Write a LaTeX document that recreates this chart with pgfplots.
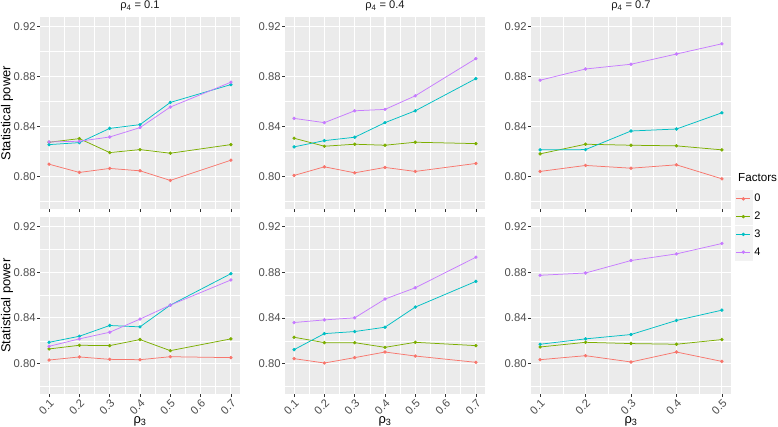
\documentclass[border=0pt]{standalone}
\usepackage{pgfplots}
\usepackage{pgfplotstable}
\pgfplotsset{compat=1.18}
\usepackage{fontspec}
\setmainfont{Liberation Sans}

\definecolor{fzero}{HTML}{F8766D}
\definecolor{ftwo}{HTML}{7CAE00}
\definecolor{fthree}{HTML}{00BFC4}
\definecolor{ffour}{HTML}{C77CFF}
\definecolor{panelbg}{HTML}{EBEBEB}
\definecolor{keybg}{HTML}{F2F2F2}
\definecolor{ticktext}{HTML}{4D4D4D}
\definecolor{tickcol}{HTML}{333333}
\definecolor{striptext}{HTML}{1A1A1A}

% statistical power, columns = number of factors
\pgfplotstableread{
x   f0     f2     f3     f4
0.1 0.8098 0.8274 0.8255 0.8276
0.2 0.8032 0.8303 0.8271 0.8282
0.3 0.8064 0.8191 0.8385 0.8316
0.4 0.8045 0.8215 0.8415 0.8391
0.5 0.7968 0.8186 0.8593 0.8556
0.7 0.8130 0.8255 0.8736 0.8755
}\tabA
\pgfplotstableread{
x   f0     f2     f3     f4
0.1 0.8008 0.8306 0.8237 0.8465
0.2 0.8077 0.8242 0.8287 0.8431
0.3 0.8029 0.8258 0.8314 0.8526
0.4 0.8072 0.8250 0.8431 0.8537
0.5 0.8040 0.8274 0.8526 0.8646
0.7 0.8104 0.8263 0.8784 0.8944
}\tabB
\pgfplotstableread{
x   f0     f2     f3     f4
0.1 0.8040 0.8181 0.8213 0.8771
0.2 0.8088 0.8258 0.8215 0.8861
0.3 0.8066 0.8250 0.8364 0.8899
0.4 0.8093 0.8245 0.8380 0.8981
0.5 0.7981 0.8213 0.8510 0.9063
}\tabC
\pgfplotstableread{
x   f0     f2     f3     f4
0.1 0.8032 0.8129 0.8187 0.8152
0.2 0.8059 0.8161 0.8240 0.8217
0.3 0.8038 0.8158 0.8334 0.8275
0.4 0.8035 0.8211 0.8322 0.8390
0.5 0.8061 0.8114 0.8512 0.8512
0.7 0.8053 0.8217 0.8787 0.8732
}\tabD
\pgfplotstableread{
x   f0     f2     f3     f4
0.1 0.8044 0.8231 0.8123 0.8360
0.2 0.8006 0.8184 0.8263 0.8383
0.3 0.8053 0.8184 0.8281 0.8401
0.4 0.8102 0.8143 0.8319 0.8565
0.5 0.8067 0.8187 0.8495 0.8664
0.7 0.8012 0.8158 0.8720 0.8931
}\tabE
\pgfplotstableread{
x   f0     f2     f3     f4
0.1 0.8035 0.8146 0.8170 0.8773
0.2 0.8070 0.8187 0.8217 0.8793
0.3 0.8015 0.8176 0.8255 0.8902
0.4 0.8102 0.8170 0.8378 0.8960
0.5 0.8020 0.8211 0.8468 0.9051
}\tabF

\pgfplotsset{
  facet/.style={
    scale only axis, width=200bp, anchor=south west,
    ymin=0.7735, ymax=0.928,
    ytick={0.80,0.84,0.88,0.92},
    minor ytick={0.78,0.82,0.86,0.90},
    grid=both,
    major grid style={white, line width=1.1bp},
    minor grid style={white, line width=0.55bp},
    axis background/.style={fill=panelbg},
    axis line style={draw=none},
    tick align=outside, tick pos=left,
    major tick length=2.7bp, minor tick length=0pt,
    tick style={tickcol, line width=0.5bp},
    /pgf/number format/assume math mode=true,
    yticklabel={\pgfmathprintnumber[fixed,fixed zerofill,precision=2]{\tick}},
    yticklabel style={font=\fontsize{11.3}{12}\selectfont, text=ticktext, inner sep=1.5bp},
    title style={font=\fontsize{11.2}{12}\selectfont, text=striptext, yshift=-4bp},
    every axis y label/.style={at={(axis description cs:0,0.5)}, xshift=-33bp, rotate=90, anchor=center, font=\fontsize{13}{14}\selectfont},
    every axis x label/.style={at={(axis description cs:0.5,0)}, yshift=-27.5bp, anchor=center, font=\fontsize{13}{14}\selectfont},
  },
  wide/.style={xmin=0.07, xmax=0.73, xtick={0.1,0.2,0.3,0.4,0.5,0.6,0.7},
    minor xtick={0.15,0.25,0.35,0.45,0.55,0.65}},
  narrow/.style={xmin=0.08, xmax=0.52, xtick={0.1,0.2,0.3,0.4,0.5},
    minor xtick={0.15,0.25,0.35,0.45}},
  toprow/.style={height=192.8bp, xticklabel=\empty},
  botrow/.style={height=176.7bp, xlabel={ρ\textsubscript{3}},
    xticklabel={\pgfmathprintnumber[fixed,fixed zerofill,precision=1]{\tick}},
    xticklabel style={font=\fontsize{11.3}{12}\selectfont, text=ticktext, rotate=45, anchor=north east, inner sep=1bp}},
  ser/.style={color=#1, line width=0.75bp, mark=*, mark size=1.3bp, mark options={solid}},
}

\begin{document}
\begin{tikzpicture}
\useasboundingbox (0,0) rectangle (778bp,427bp);

% top row
\begin{axis}[facet, wide, toprow, at={(40bp,217.5bp)}, title={ρ\textsubscript{4} = 0.1}, ylabel={Statistical power}]
  \addplot[ser=fzero] table[x=x,y=f0]{\tabA};
  \addplot[ser=ftwo] table[x=x,y=f2]{\tabA};
  \addplot[ser=fthree] table[x=x,y=f3]{\tabA};
  \addplot[ser=ffour] table[x=x,y=f4]{\tabA};
\end{axis}
\begin{axis}[facet, wide, toprow, at={(285bp,217.5bp)}, title={ρ\textsubscript{4} = 0.4}]
  \addplot[ser=fzero] table[x=x,y=f0]{\tabB};
  \addplot[ser=ftwo] table[x=x,y=f2]{\tabB};
  \addplot[ser=fthree] table[x=x,y=f3]{\tabB};
  \addplot[ser=ffour] table[x=x,y=f4]{\tabB};
\end{axis}
\begin{axis}[facet, narrow, toprow, at={(531bp,217.5bp)}, title={ρ\textsubscript{4} = 0.7},
    legend style={at={(1.0165,0.101)}, anchor=north west, draw=none, fill=none,
      font=\fontsize{11}{12}\selectfont, row sep=0.5bp, inner sep=0pt,
      nodes={inner sep=2bp}},
    legend cell align=left,
    legend image code/.code={
      \fill[keybg] (0bp,-8.25bp) rectangle (17bp,8.25bp);
      \draw[mark repeat=2,mark phase=2,#1] plot coordinates {(1.5bp,0bp) (8.5bp,0bp) (15.5bp,0bp)};
    }]
  \addplot[ser=fzero] table[x=x,y=f0]{\tabC};
  \addplot[ser=ftwo] table[x=x,y=f2]{\tabC};
  \addplot[ser=fthree] table[x=x,y=f3]{\tabC};
  \addplot[ser=ffour] table[x=x,y=f4]{\tabC};
  \legend{0,2,3,4}
\end{axis}

% bottom row
\begin{axis}[facet, wide, botrow, at={(40bp,33bp)}, ylabel={Statistical power}]
  \addplot[ser=fzero] table[x=x,y=f0]{\tabD};
  \addplot[ser=ftwo] table[x=x,y=f2]{\tabD};
  \addplot[ser=fthree] table[x=x,y=f3]{\tabD};
  \addplot[ser=ffour] table[x=x,y=f4]{\tabD};
\end{axis}
\begin{axis}[facet, wide, botrow, at={(285bp,33bp)}]
  \addplot[ser=fzero] table[x=x,y=f0]{\tabE};
  \addplot[ser=ftwo] table[x=x,y=f2]{\tabE};
  \addplot[ser=fthree] table[x=x,y=f3]{\tabE};
  \addplot[ser=ffour] table[x=x,y=f4]{\tabE};
\end{axis}
\begin{axis}[facet, narrow, botrow, at={(531bp,33bp)}]
  \addplot[ser=fzero] table[x=x,y=f0]{\tabF};
  \addplot[ser=ftwo] table[x=x,y=f2]{\tabF};
  \addplot[ser=fthree] table[x=x,y=f3]{\tabF};
  \addplot[ser=ffour] table[x=x,y=f4]{\tabF};
\end{axis}

\node[anchor=west, font=\fontsize{11.7}{12}\selectfont, inner sep=0pt] at (738bp,249bp) {Factors};
\end{tikzpicture}
\end{document}
